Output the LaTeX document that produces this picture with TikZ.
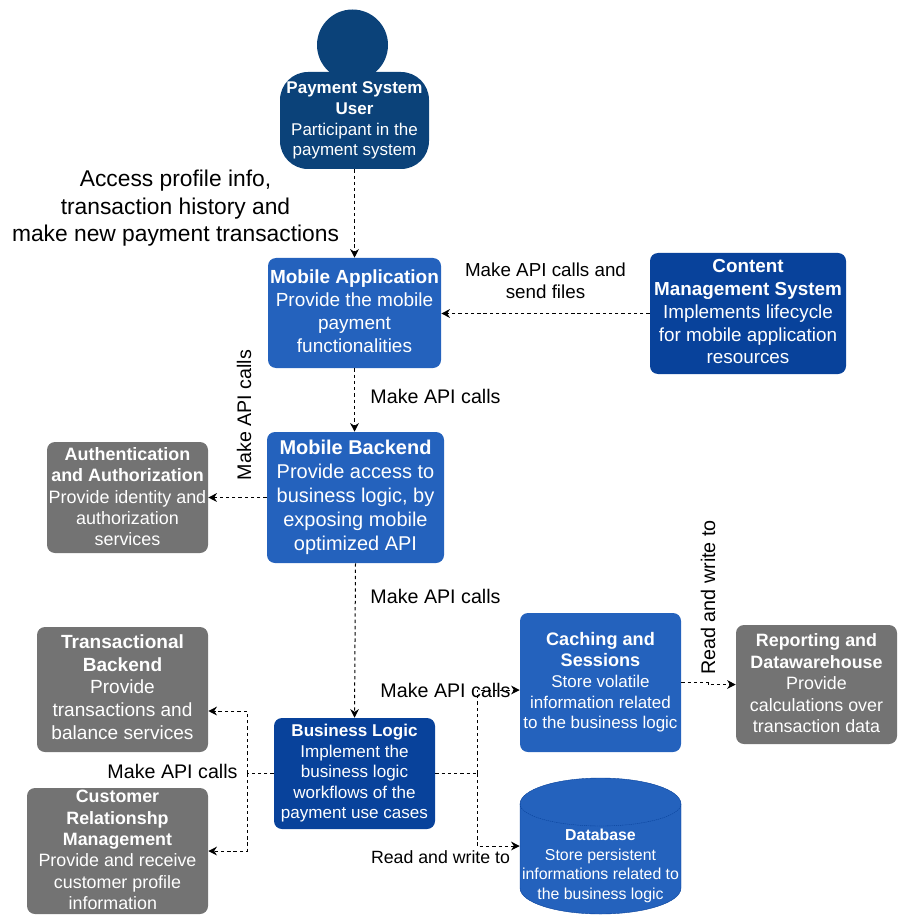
\documentclass[tikz,border=0pt]{standalone}
\usepackage{fontspec}
\setmainfont{Liberation Sans}
\usetikzlibrary{calc,arrows.meta}
\definecolor{userblue}{HTML}{0B4279}
\definecolor{midblue}{HTML}{2462BD}
\definecolor{darkblue}{HTML}{08429B}
\definecolor{greybox}{HTML}{737373}
\newcommand{\fsz}[2]{\fontsize{#1pt}{#2pt}\selectfont}
\newcommand{\dpt}[1]{\rule[-#1pt]{0pt}{#1pt}}
\tikzset{
  card/.style={rounded corners=6pt, inner sep=0pt, text=white, align=center},
  flow/.style={line width=0.75pt, dash pattern=on 2.5pt off 2.2pt, -{Stealth[length=6.5pt,width=6.5pt]}},
  plain/.style={line width=0.75pt, dash pattern=on 2.5pt off 2.2pt},
  lbl/.style={inner sep=0pt, align=center, text=black}
}
\begin{document}
\begin{tikzpicture}[x=0.75pt,y=0.75pt,yscale=-1,xscale=1]
\useasboundingbox (0,0) rectangle (909,923);
%Person
\node [circle, fill=userblue, inner sep=0pt, minimum size=53.25pt] (head) at (352.5,45) {};
\node [card, rounded corners=21pt, fill=userblue, minimum width=111.75pt, minimum height=72.75pt, font=\fsz{12.75}{15.6}] (user) at (354.5,120.5) {\textbf{Payment System}\\\textbf{User}\\Participant in the\\payment system};
%Blue boxes
\node [card, fill=midblue, minimum width=129.75pt, minimum height=82.5pt, font=\fsz{14.25}{17.2}] (app) at (354.5,313) {\textbf{Mobile Application}\\Provide the mobile\\payment\\functionalities\dpt{3}};
\node [card, fill=darkblue, minimum width=147pt, minimum height=90.75pt, font=\fsz{14.15}{17.2}] (cms) at (748,313.5) {\textbf{Content}\\\textbf{Management System}\\Implements lifecycle\\for mobile application\\resources\dpt{3}};
\node [card, fill=midblue, minimum width=132.75pt, minimum height=98.25pt, font=\fsz{14.97}{18}] (backend) at (355.5,497.5) {\textbf{Mobile Backend}\\Provide access to\\business logic, by\\exposing mobile\\optimized API\dpt{3.5}};
\node [card, fill=darkblue, minimum width=120.75pt, minimum height=83.25pt, font=\fsz{12.8}{15.4}] (logic) at (354.5,773.5) {\textbf{Business Logic}\\Implement the\\business logic\\workflows of the\\payment use cases};
\node [card, fill=midblue, minimum width=120.75pt, minimum height=104.25pt, font=\fsz{12.75}{15.6}] (cache) at (600.5,682.5) {\textbf{\fsz{13.6}{15.6}Caching and}\\\textbf{\fsz{13.6}{15.6}Sessions}\\Store volatile\\information related\\to the business logic\dpt{1}};
%Database
\draw [draw=darkblue, line width=0.3pt, fill=midblue] (520,804) .. controls (520,789.6) and (556,778) .. (600.5,778) .. controls (645,778) and (681,789.6) .. (681,804) -- (681,888) .. controls (681,902.4) and (645,914) .. (600.5,914) .. controls (556,914) and (520,902.4) .. (520,888) -- cycle ;
\draw [draw=darkblue, line width=0.3pt, dash pattern=on 1pt off 0.6pt] (520,804) .. controls (520,816) and (556,826) .. (600.5,826) .. controls (645,826) and (681,816) .. (681,804) ;
\node [card, minimum width=120.75pt, minimum height=102pt, font=\fsz{11.9}{14.6}] (db) at (600.5,846) {\textbf{\rule{0pt}{38.5pt}Database}\\Store persistent\\informations related to\\the business logic};
%Grey boxes
\node [card, fill=greybox, minimum width=120.75pt, minimum height=83.25pt, font=\fsz{13.45}{16.1}] (auth) at (127.5,497.5) {\textbf{Authentication}\\\textbf{and Authorization}\\Provide identity and\\authorization\\services\dpt{1.5}};
\node [card, fill=greybox, minimum width=128.25pt, minimum height=93.75pt, font=\fsz{14.3}{17}] (trans) at (122.5,689.5) {\textbf{Transactional}\\\textbf{Backend}\\Provide\\transactions and\\balance services\dpt{4}};
\node [card, fill=greybox, minimum width=135.75pt, minimum height=94.5pt, font=\fsz{13.4}{16.1}] (crm) at (117.5,851) {\textbf{Customer}\\\textbf{Relationshp}\\\textbf{Management}\\Provide and receive\\customer profile\\information\hspace*{7pt}\dpt{1.5}};
\node [card, fill=greybox, minimum width=120.75pt, minimum height=89.25pt, font=\fsz{13.4}{16.2}] (report) at (816.5,684.5) {\textbf{Reporting and}\\\textbf{Datawarehouse}\\Provide\\calculations over\\transaction data\dpt{2}};
%Junctions
\coordinate (splitL) at (247,773.5);
\coordinate (splitR) at (477,773.5);
\coordinate (jog) at ($(cache.east)!.5!(report.west)$);
%Connectors
\draw [flow] (user.south) -- (app.north);
\draw [flow] (cms.west) -- (app.east |- cms.west);
\draw [flow] (app.south) -- (app.south |- backend.north);
\draw [flow] (backend.west) -- (auth.east);
\draw [flow] (backend.south) -- (logic.north);
\draw [plain] (logic.west) -- (splitL);
\draw [flow] (splitL) |- ($(trans.east)+(0,21.5)$);
\draw [flow] (splitL) |- (crm.east);
\draw [plain] (logic.east) -- (splitR);
\draw [flow] (splitR) |- ($(cache.west)+(0,7.5)$);
\draw [flow] (splitR) |- (db.west);
\draw [flow] (cache.east) -| (jog) |- (report.west);
%Labels
\node [lbl, font=\fsz{17.1}{20.6}] (access) at (175.5,208.5) {Access profile info,\\transaction history and\\make new payment transactions};
\node [lbl, font=\fsz{14.1}{16.8}] (callsfiles) at (545.5,281) {Make API calls and\\send files};
\node [lbl, font=\fsz{14.75}{17}] (callsa) at (435.5,396) {Make API calls};
\node [lbl, font=\fsz{14.75}{17}, rotate=90] (callsb) at (244,415) {Make API calls};
\node [lbl, font=\fsz{14.75}{17}] (callsc) at (435.5,596) {Make API calls};
\node [lbl, font=\fsz{14.75}{17}] (callsd) at (445.5,690) {Make API calls};
\node [lbl, font=\fsz{14.75}{17}] (callse) at (172.5,771) {Make API calls};
\node [lbl, font=\fsz{13.3}{16}] (rwa) at (440.5,857) {Read and write to};
\node [lbl, font=\fsz{14.8}{17}, rotate=90] (rwb) at (708,597.5) {Read and write to};
\end{tikzpicture}
\end{document}
